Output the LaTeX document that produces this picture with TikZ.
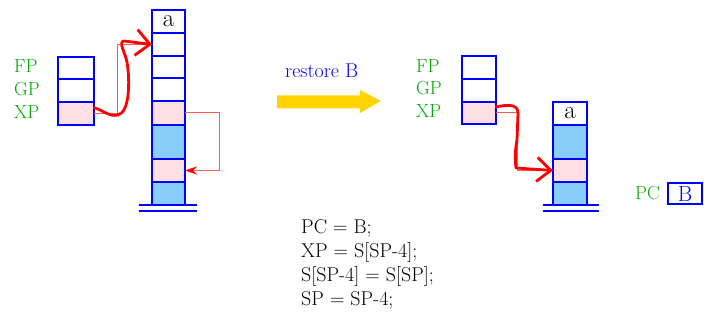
\documentclass[tikz,border=0pt]{standalone}
\usetikzlibrary{arrows.meta}
\definecolor{cellblue}{RGB}{135,206,250}
\definecolor{cellpink}{RGB}{255,222,228}
\definecolor{lblgreen}{RGB}{0,170,0}
\definecolor{thinred}{RGB}{255,90,90}
\definecolor{gold}{RGB}{255,212,0}
\tikzset{
  cell/.style={draw=blue, line width=1.2pt, fill=white, inner sep=0pt, outer sep=0pt, minimum width=#1},
  cell/.default=33pt,
  lbl/.style={text=lblgreen, font=\fontsize{19}{22}\selectfont, anchor=base west, inner sep=0pt},
  codeline/.style={font=\fontsize{20}{22}\selectfont, anchor=base west, inner sep=0pt},
  bigtxt/.style={font=\fontsize{25}{28}\selectfont},
  thinline/.style={draw=thinred, line width=1pt},
  handline/.style={draw=red, line width=2.8pt, line cap=round, line join=round},
  baseline/.style={draw=blue, line width=1.2pt}
}
\begin{document}
\begin{tikzpicture}[x=1pt,y=-1pt]
\useasboundingbox (0,0) rectangle (704,328);
% left small stack
\node[cell=36pt, minimum height=22pt] (S1) at (76,68) {};
\node[cell=36pt, minimum height=23pt] (S2) at (76,90.5) {};
\node[cell=36pt, minimum height=23pt, fill=cellpink] (S3) at (76,113.5) {};
\node[lbl] (fp1) at (14,73) {FP};
\node[lbl] (gp1) at (14,96) {GP};
\node[lbl] (xp1) at (14,119) {XP};
% left stack
\node[cell, minimum height=23pt] (L1) at (168.5,21.5) {};
\node[bigtxt, anchor=base] (La) at (168.5,27) {a};
\node[cell, minimum height=23pt] (L2) at (168.5,44.5) {};
\node[cell, minimum height=22pt] (L3) at (168.5,67) {};
\node[cell, minimum height=23pt] (L4) at (168.5,89.5) {};
\node[cell, minimum height=24pt, fill=cellpink] (L5) at (168.5,113) {};
\node[cell, minimum height=34pt, fill=cellblue] (L6) at (168.5,142) {};
\node[cell, minimum height=23pt, fill=cellpink] (L7) at (168.5,170.5) {};
\node[cell, minimum height=23pt, fill=cellblue] (L8) at (168.5,193.5) {};
\draw[baseline] ([xshift=-13pt]L8.south west) -- ([xshift=12pt]L8.south east);
\draw[baseline] ([xshift=-13pt,yshift=-6pt]L8.south west) -- ([xshift=12pt,yshift=-6pt]L8.south east);
% left arrows
\draw[thinline] (S3.east) -- ++(23,0) |- (L2.west);
\draw[thinline, -{Stealth[length=12pt,width=8pt,fill=red,color=red]}] (L5.east) -- ++(34,0) |- (L7.east);
\draw[handline, -{Straight Barb[length=14pt,width=26pt,line width=2.8pt]}]
  ([yshift=6pt]S3.east) .. controls (104,111) and (110,117) .. (118,115)
  .. controls (130,112) and (130,80) .. (127,62)
  .. controls (125,52) and (118,42) .. (124,41) -- (L2.west);
% restore arrow
\node[text=blue, font=\fontsize{20}{22}\selectfont, anchor=base west, inner sep=0pt] (rest) at (285,78) {restore B};
\fill[gold] (277,95.5) -- (360,95.5) -- (360,90) -- (381,101) -- (360,113) -- (360,108.5) -- (277,108.5) -- cycle;
% right small stack
\node[cell=34pt, minimum height=23pt] (T1) at (479,67.5) {};
\node[cell=34pt, minimum height=23pt] (T2) at (479,90.5) {};
\node[cell=34pt, minimum height=22pt, fill=cellpink] (T3) at (479,113) {};
\node[lbl] (fp2) at (416,73) {FP};
\node[lbl] (gp2) at (416,95) {GP};
\node[lbl] (xp2) at (416,118) {XP};
% right stack
\node[cell=34pt, minimum height=23pt] (R1) at (570,113.5) {};
\node[bigtxt, anchor=base] (Ra) at (570,119) {a};
\node[cell=34pt, minimum height=34pt, fill=cellblue] (R2) at (570,142) {};
\node[cell=34pt, minimum height=23pt, fill=cellpink] (R3) at (570,170.5) {};
\node[cell=34pt, minimum height=23pt, fill=cellblue] (R4) at (570,193.5) {};
\draw[baseline] ([xshift=-10pt]R4.south west) -- ([xshift=12pt]R4.south east);
\draw[baseline] ([xshift=-10pt,yshift=-6pt]R4.south west) -- ([xshift=12pt,yshift=-6pt]R4.south east);
\draw[thinline] (T3.east) -- ++(21,0) |- (R3.west);
\draw[handline, -{Straight Barb[length=14pt,width=24pt,line width=2.8pt]}]
  ([yshift=6pt]T3.east) .. controls (505,105) and (518,103) .. (518,113)
  -- (517,140) .. controls (515,150) and (515,160) .. (516,168) -- (R3.west);
% PC register
\node[lbl] (pc) at (635,200) {PC};
\node[draw=blue, line width=1.2pt, minimum width=34pt, minimum height=21pt, inner sep=0pt, text=blue, font=\fontsize{22}{24}\selectfont] (B) at (685,193.5) {B};
% code
\node[codeline] (c1) at (301,234) {PC = B;};
\node[codeline] (c2) at (301,258) {XP = S[SP-4];};
\node[codeline] (c3) at (301,282) {S[SP-4] = S[SP];};
\node[codeline] (c4) at (301,306) {SP = SP-4;};
\end{tikzpicture}
\end{document}
